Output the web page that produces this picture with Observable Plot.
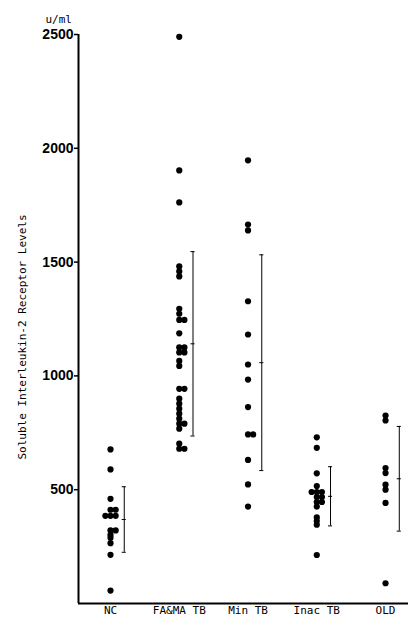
<!DOCTYPE html>
<html>
<head>
<meta charset="utf-8">
<script src="https://cdn.jsdelivr.net/npm/d3@7"></script>
<script src="https://cdn.jsdelivr.net/npm/@observablehq/plot@0.6"></script>
<style>
  html, body { margin: 0; padding: 0; background: #fff; }
  #chart svg { display: block; }
</style>
</head>
<body>
<div id="chart"></div>
<script>
const groups = ["NC", "FA&MA TB", "Min TB", "Inac TB", "OLD"];
const ncValues = [677, 589, 460, 412, 412, 385, 385, 385, 321, 321, 302, 289, 265, 214, 57];
const famaValues = [2490, 1903, 1762, 1481, 1459, 1437, 1295, 1273, 1246, 1246, 1187, 1125, 1125, 1103, 1103, 1066, 1044, 943, 943, 900, 878, 856, 834, 812, 790, 790, 768, 702, 680, 680];
const minValues = [1947, 1665, 1639, 1328, 1182, 1050, 984, 863, 743, 743, 631, 523, 426];
const inacValues = [730, 684, 572, 516, 490, 490, 490, 468, 468, 446, 446, 426, 378, 362, 346, 213];
const oldValues = [826, 804, 595, 573, 522, 500, 442, 89];
const means = [369, 1141, 1058, 471, 548];
const sds = [144, 405, 474, 130, 230];
const yTicks = [500, 1000, 1500, 2000, 2500];
const yLabel = "Soluble Interleukin-2 Receptor Levels";
const unitLabel = "u/ml";

const series = [ncValues, famaValues, minValues, inacValues, oldValues];

// build points; equal values within a group are placed side by side
const step = 0.075;
const points = [];
series.forEach((vals, gi) => {
  const counts = d3.rollup(vals, v => v.length, v => v);
  const seen = new Map();
  vals.forEach(v => {
    const k = counts.get(v);
    const j = seen.get(v) || 0;
    seen.set(v, j + 1);
    const off = k >= 3 ? (j - 1) : j;
    points.push({group: gi, value: v, x: gi + off * step});
  });
});

const barOff = 0.2;
const capW = 0.03;
const bars = groups.map((g, i) => ({
  x: i + barOff, mean: means[i], lo: means[i] - sds[i], hi: means[i] + sds[i]
}));

const xDomain = [-0.4655, 4.334];
const mono = "'DejaVu Sans Mono', 'Liberation Mono', monospace";

const chart = Plot.plot({
  width: 420,
  height: 620,
  marginLeft: 78,
  marginRight: 12,
  marginTop: 34,
  marginBottom: 17,
  style: {fontFamily: mono, fontSize: "11px", color: "#000", background: "#fff"},
  x: {type: "linear", domain: xDomain},
  y: {domain: [0, 2500]},
  marks: [
    Plot.axisY({ticks: yTicks, tickFormat: d => String(d), tickSize: 4, tickPadding: 1,
      fontFamily: "'Liberation Sans', Arial, sans-serif", fontSize: 14, fontWeight: "bold", label: null, strokeWidth: 1.5}),
    Plot.axisX({ticks: d3.range(groups.length), tickFormat: i => groups[i], tickSize: 0, tickPadding: 3,
      fontFamily: mono, fontSize: 11, label: null}),
    Plot.ruleX([xDomain[0]], {stroke: "#000", strokeWidth: 2}),
    Plot.ruleY([0], {stroke: "#000", strokeWidth: 2}),
    Plot.ruleX(bars, {x: "x", y1: "lo", y2: "hi", stroke: "#000", strokeWidth: 1}),
    Plot.ruleY(bars, {y: "hi", x1: d => d.x - capW, x2: d => d.x + capW, stroke: "#000", strokeWidth: 1}),
    Plot.ruleY(bars, {y: "lo", x1: d => d.x - capW, x2: d => d.x + capW, stroke: "#000", strokeWidth: 1}),
    Plot.ruleY(bars, {y: "mean", x1: d => d.x - capW, x2: d => d.x + capW, stroke: "#000", strokeWidth: 1}),
    Plot.dot(points, {x: "x", y: "value", r: 3.1, fill: "#000", stroke: "none"}),
    Plot.text([yLabel], {frameAnchor: "left", textAnchor: "middle", dx: -56, dy: 18, rotate: -90, fontFamily: mono, fontSize: 11, fill: "#000"}),
    Plot.text([unitLabel], {frameAnchor: "top-left", dx: -33, dy: -19, textAnchor: "start", fontFamily: mono, fontSize: 11, fill: "#000"})
  ]
});
document.getElementById("chart").appendChild(chart);
</script>
</body>
</html>
